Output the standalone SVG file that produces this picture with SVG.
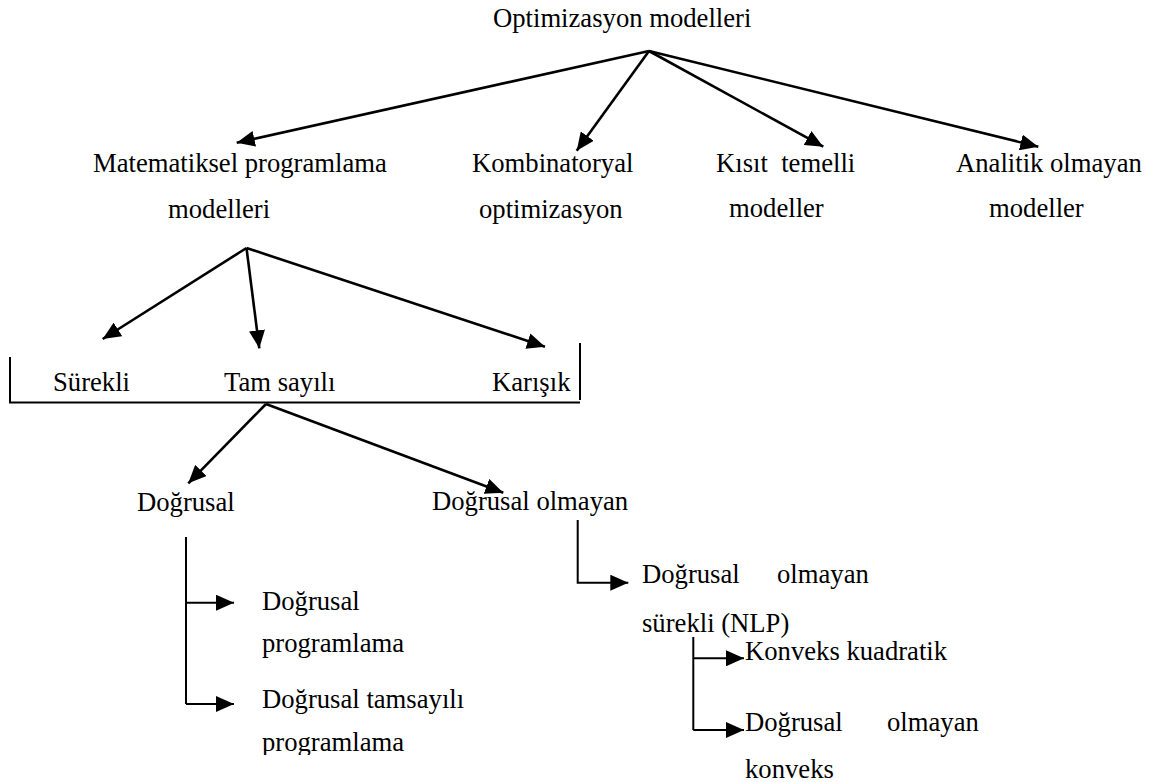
<svg xmlns="http://www.w3.org/2000/svg" width="1153" height="782" viewBox="0 0 1153 782" font-family="'Liberation Serif', 'Times New Roman', Times, serif">
  <style>
    text { font-family: 'Liberation Serif', 'Times New Roman', Times, serif; font-size: 26.67px; fill: #000; }
    .arrow { fill: none; stroke: #000; stroke-width: 2.6; marker-end: url(#head); }
    .elbow { fill: none; stroke: #000; stroke-width: 2; }
    .elbow-a { fill: none; stroke: #000; stroke-width: 2; marker-end: url(#head); }
    .rule { fill: none; stroke: #000; stroke-width: 2; }
  </style>
  <defs>
    <marker id="head" markerUnits="userSpaceOnUse" markerWidth="20" markerHeight="16" refX="18" refY="8" orient="auto" viewBox="0 0 20 16">
      <path d="M0,0 L18,8 L0,16 Z" fill="#000"/>
    </marker>
    <clipPath id="pageEdge">
      <rect x="0" y="0" width="1153" height="755"/>
    </clipPath>
  </defs>
  <rect width="1153" height="782" fill="#fff"/>

  <!-- connectors -->
  <g id="connectors">
    <!-- root fan-out -->
    <line class="arrow" x1="649" y1="51" x2="236.7" y2="142.7"/>
    <line class="arrow" x1="649" y1="51" x2="576.7" y2="150.7"/>
    <line class="arrow" x1="649" y1="51" x2="823.3" y2="146.7"/>
    <line class="arrow" x1="649" y1="51" x2="1038.3" y2="146.7"/>
    <!-- mathematical programming fan-out -->
    <line class="arrow" x1="246.5" y1="248" x2="102.7" y2="339"/>
    <line class="arrow" x1="246.5" y1="248" x2="259.3" y2="348.3"/>
    <line class="arrow" x1="246.5" y1="248" x2="545" y2="346.7"/>
    <!-- bracket round the variable types -->
    <path class="rule" d="M10,357 V402.5 H580"/>
    <line class="rule" x1="580" y1="343" x2="580" y2="400"/>
    <!-- integer fan-out -->
    <line class="arrow" x1="266" y1="404" x2="188.3" y2="483.3"/>
    <line class="arrow" x1="266" y1="404" x2="503.3" y2="492.7"/>
    <!-- linear branch -->
    <path class="elbow" d="M186,537 V704"/>
    <path class="elbow-a" d="M186,602.7 H234"/>
    <path class="elbow-a" d="M186,704 H234"/>
    <!-- nonlinear branch -->
    <path class="elbow-a" d="M577.7,520 V582.7 H628.3"/>
    <!-- NLP branch -->
    <path class="elbow" d="M693.3,637 V730"/>
    <path class="elbow-a" d="M693.3,658.3 H744"/>
    <path class="elbow-a" d="M693.3,730 H744"/>
  </g>

  <g id="root"><text x="493" y="27">Optimizasyon modelleri</text></g>

  <g id="matematiksel">
    <text x="93" y="172">Matematiksel programlama</text>
    <text x="168" y="218">modelleri</text>
  </g>
  <g id="kombinatoryal">
    <text x="472" y="172">Kombinatoryal</text>
    <text x="479" y="218">optimizasyon</text>
  </g>
  <g id="kisit">
    <text x="716" y="172" xml:space="preserve">Kısıt  temelli</text>
    <text x="729" y="217">modeller</text>
  </g>
  <g id="analitik">
    <text x="956" y="172">Analitik olmayan</text>
    <text x="989" y="217">modeller</text>
  </g>

  <g id="surekli"><text x="53" y="391">Sürekli</text></g>
  <g id="tamsayili"><text x="224" y="391">Tam sayılı</text></g>
  <g id="karisik"><text x="492" y="391">Karışık</text></g>

  <g id="dogrusal"><text x="137" y="511">Doğrusal</text></g>
  <g id="dogrusal-olmayan"><text x="432" y="510">Doğrusal olmayan</text></g>

  <g id="dp">
    <text x="262" y="610">Doğrusal</text>
    <text x="262" y="652">programlama</text>
  </g>
  <g id="dtp" clip-path="url(#pageEdge)">
    <text x="262" y="708">Doğrusal tamsayılı</text>
    <text x="262" y="751">programlama</text>
  </g>

  <g id="nlp">
    <text y="583"><tspan x="642">Doğrusal</tspan><tspan x="777">olmayan</tspan></text>
    <text x="642" y="632">sürekli (NLP)</text>
  </g>
  <g id="konveks-kuadratik"><text x="745" y="660">Konveks kuadratik</text></g>
  <g id="dogrusal-olmayan-konveks">
    <text y="731"><tspan x="745">Doğrusal</tspan><tspan x="887">olmayan</tspan></text>
    <text x="745" y="778">konveks</text>
  </g>
</svg>
